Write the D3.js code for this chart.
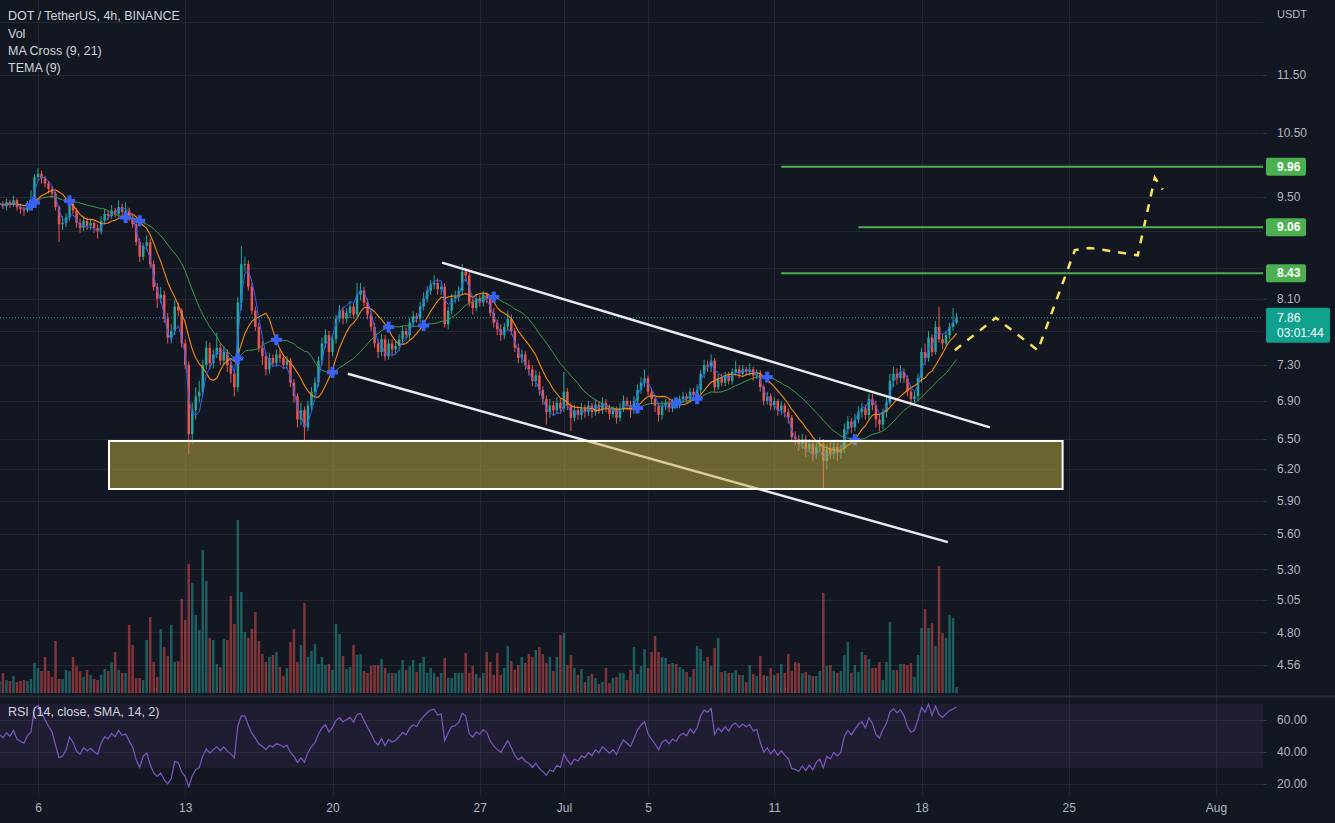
<!DOCTYPE html>
<html><head><meta charset="utf-8">
<script src="https://cdn.jsdelivr.net/npm/d3@7"></script>
<style>html,body{margin:0;padding:0;background:#131722;overflow:hidden}svg{display:block}</style>
</head><body>
<svg id="c" width="1335" height="823"></svg>
<script>
// ---------- DATA ----------
const firstBarTime = Date.UTC(2022, 5, 4, 4); // first 4h candle shown
const barMs = 4 * 3600 * 1000;
const firstOpen = 9.38;
const closes = [
9.40,9.36,9.42,9.38,9.45,9.35,9.32,9.30,9.38,9.42,
9.80,9.85,9.78,9.70,9.62,9.55,9.35,9.10,9.12,9.20,
9.40,9.30,9.12,9.05,9.15,9.08,9.12,9.05,9.00,9.15,
9.25,9.22,9.30,9.25,9.35,9.28,9.30,9.20,9.10,8.85,
8.65,8.80,8.85,8.55,8.25,8.10,8.15,7.85,7.62,7.70,
8.00,7.95,7.55,7.30,6.55,6.80,6.95,7.00,7.30,7.50,
7.32,7.42,7.50,7.35,7.45,7.30,7.20,7.05,8.05,8.55,
8.55,8.25,7.95,7.75,7.50,7.40,7.25,7.38,7.32,7.42,
7.38,7.30,7.35,7.10,6.95,6.70,6.80,6.62,6.85,7.00,
7.10,7.35,7.55,7.65,7.45,7.60,7.85,7.95,7.85,7.92,
8.00,7.90,8.15,8.20,8.05,7.90,7.75,7.55,7.45,7.60,
7.40,7.55,7.48,7.52,7.60,7.70,7.65,7.80,7.88,7.85,
8.00,8.10,8.20,8.28,8.30,8.22,8.25,7.78,7.95,8.10,
8.12,8.20,8.45,8.40,8.05,7.98,8.10,8.05,8.15,8.10,
7.92,7.80,7.72,7.65,7.75,7.85,7.70,7.50,7.38,7.42,
7.30,7.25,7.12,7.18,7.02,6.92,6.78,6.85,6.80,6.88,
6.82,7.00,6.85,6.72,6.80,6.75,6.82,6.78,6.85,6.78,
6.86,6.80,6.88,6.82,6.76,6.80,6.72,6.82,6.90,6.85,
6.80,6.90,7.02,7.10,7.15,7.00,6.92,6.85,6.75,6.85,
6.88,6.82,6.88,6.85,6.92,6.95,6.92,7.00,6.96,7.02,
7.20,7.30,7.28,7.35,7.05,7.15,7.10,7.18,7.12,7.22,
7.25,7.20,7.25,7.22,7.25,7.18,7.20,7.05,6.90,6.95,
6.85,6.90,6.80,6.85,6.78,6.72,6.52,6.50,6.45,6.50,
6.40,6.45,6.35,6.42,6.45,6.28,6.40,6.35,6.42,6.36,
6.40,6.60,6.68,6.62,6.70,6.78,6.82,6.75,6.92,6.85,
6.70,6.65,6.78,6.88,7.12,7.20,7.15,7.22,7.15,7.00,
6.92,6.95,7.15,7.45,7.38,7.62,7.45,7.75,7.60,7.55,
7.65,7.75,7.80,7.86];
const highs = [
9.46,9.44,9.47,9.45,9.52,9.48,9.40,9.36,9.44,9.60,
9.84,9.94,9.90,9.82,9.74,9.66,9.58,9.38,9.22,9.26,
9.46,9.44,9.34,9.18,9.22,9.20,9.18,9.16,9.10,9.22,
9.32,9.30,9.38,9.34,9.45,9.40,9.42,9.34,9.24,9.14,
8.90,8.84,8.95,8.90,8.60,8.30,8.25,8.20,7.92,7.78,
8.08,8.05,7.98,7.60,7.34,6.88,7.05,7.12,7.36,7.58,
7.56,7.48,7.68,7.55,7.52,7.48,7.35,7.25,8.12,8.80,
8.65,8.60,8.30,8.00,7.80,7.58,7.45,7.44,7.42,7.48,
7.48,7.42,7.40,7.38,7.14,6.98,6.88,6.84,6.90,7.05,
7.16,7.40,7.62,7.72,7.70,7.66,7.90,8.02,8.00,7.98,
8.06,8.04,8.30,8.30,8.25,8.10,7.95,7.80,7.60,7.66,
7.65,7.60,7.60,7.58,7.66,7.76,7.74,7.86,7.94,7.92,
8.06,8.18,8.26,8.34,8.40,8.36,8.30,8.30,8.00,8.16,
8.20,8.26,8.55,8.50,8.44,8.10,8.16,8.14,8.20,8.18,
8.14,7.98,7.84,7.78,7.80,7.95,7.90,7.74,7.55,7.48,
7.46,7.36,7.30,7.24,7.22,7.06,6.96,6.92,6.90,6.94,
6.92,7.22,7.04,6.88,6.86,6.84,6.88,6.86,6.90,6.88,
6.92,6.90,6.94,6.92,6.86,6.84,6.84,6.88,6.96,6.94,
6.90,6.95,7.08,7.16,7.25,7.18,7.04,6.96,6.88,6.90,
6.92,6.92,6.92,6.92,6.96,7.00,6.98,7.04,7.04,7.08,
7.24,7.36,7.35,7.42,7.38,7.20,7.20,7.22,7.22,7.26,
7.35,7.30,7.30,7.28,7.32,7.28,7.25,7.24,7.08,7.00,
6.98,6.94,6.92,6.90,6.88,6.82,6.75,6.58,6.54,6.55,
6.54,6.50,6.48,6.46,6.52,6.50,6.44,6.48,6.48,6.46,
6.44,6.66,6.74,6.72,6.76,6.84,6.88,6.86,6.98,6.98,
6.90,6.76,6.82,6.94,7.20,7.28,7.26,7.30,7.26,7.18,
7.04,7.00,7.20,7.50,7.55,7.70,7.66,7.82,8.00,7.66,
7.70,7.80,7.98,7.92];
const lows = [
9.33,9.32,9.30,9.34,9.35,9.30,9.25,9.22,9.27,9.35,
9.38,9.74,9.70,9.64,9.55,9.48,9.30,8.85,9.02,9.06,
9.15,9.25,9.05,8.98,9.00,9.02,9.02,8.98,8.90,8.96,
9.10,9.16,9.18,9.20,9.20,9.22,9.22,9.15,9.05,8.80,
8.58,8.60,8.74,8.50,8.20,7.98,8.04,7.80,7.55,7.55,
7.65,7.88,7.50,7.25,6.35,6.45,6.70,6.88,6.95,7.25,
7.25,7.26,7.38,7.30,7.30,7.22,7.10,6.95,7.00,7.95,
8.45,8.20,7.90,7.70,7.45,7.30,7.18,7.20,7.28,7.28,
7.32,7.25,7.25,7.05,6.88,6.62,6.64,6.48,6.58,6.80,
6.95,7.05,7.30,7.50,7.22,7.40,7.55,7.80,7.78,7.80,
7.86,7.85,7.86,8.08,8.00,7.84,7.70,7.50,7.38,7.40,
7.35,7.36,7.40,7.42,7.46,7.55,7.60,7.60,7.75,7.80,
7.80,7.95,8.05,8.15,8.22,8.15,8.15,7.74,7.72,7.90,
8.04,8.06,8.15,8.32,8.00,7.90,7.94,8.00,8.00,8.04,
7.88,7.74,7.65,7.58,7.60,7.70,7.65,7.45,7.32,7.32,
7.25,7.18,7.06,7.05,6.96,6.86,6.65,6.72,6.74,6.76,
6.76,6.78,6.80,6.58,6.68,6.70,6.70,6.72,6.74,6.72,
6.74,6.76,6.76,6.78,6.70,6.72,6.66,6.68,6.78,6.80,
6.72,6.76,6.86,6.98,7.05,6.96,6.86,6.78,6.68,6.70,
6.80,6.78,6.78,6.82,6.82,6.88,6.88,6.88,6.92,6.92,
6.98,7.15,7.22,7.22,7.00,7.02,7.06,7.06,7.08,7.08,
7.18,7.15,7.16,7.18,7.18,7.12,7.14,7.00,6.85,6.86,
6.80,6.80,6.74,6.75,6.72,6.66,6.48,6.44,6.38,6.40,
6.32,6.36,6.28,6.30,6.38,6.00,6.20,6.30,6.30,6.28,
6.30,6.36,6.55,6.56,6.58,6.66,6.72,6.70,6.70,6.80,
6.62,6.58,6.60,6.72,6.85,7.05,7.08,7.10,7.10,6.95,
6.86,6.88,6.90,7.10,7.30,7.34,7.40,7.42,7.56,7.48,
7.52,7.60,7.70,7.78];
// volume, thousands of DOT
const volumes = [
12,20,13,12,17,11,12,13,12,14,
30,25,22,36,22,16,52,14,14,23,
22,36,27,22,16,23,18,14,13,18,
24,22,31,41,23,20,20,68,48,15,
15,13,53,76,31,16,64,46,37,68,
31,32,94,73,129,110,78,63,143,112,
55,53,29,26,54,53,97,69,173,101,
61,55,64,81,52,39,31,36,38,41,
26,17,25,51,64,31,48,90,36,42,
49,29,36,28,29,23,69,59,37,24,
26,48,38,39,22,20,27,28,28,34,
25,20,20,20,23,33,23,27,33,21,
30,36,20,25,20,16,20,35,15,15,
20,20,20,40,20,27,19,15,20,41,
31,18,40,18,25,47,32,23,28,36,
30,39,36,43,46,39,30,36,22,36,
58,60,28,38,25,18,24,11,17,19,
15,9,11,25,10,15,16,20,20,13,
23,46,19,27,44,25,41,57,41,36,
35,29,30,29,26,24,21,16,24,47,
44,32,36,27,45,55,21,22,20,20,
23,18,18,11,28,19,17,37,18,17,
25,18,20,29,20,39,22,31,30,20,
21,18,17,17,22,100,27,28,22,20,
22,38,51,20,28,21,41,38,34,25,
25,31,13,31,71,23,23,29,29,28,
30,16,38,65,84,65,70,47,127,60,
55,78,75,6];

const priceTicks = [12.5, 11.5, 10.5, 10, 9.5, 9, 8.5, 8.1, 7.7, 7.3, 6.9, 6.5, 6.2, 5.9, 5.6, 5.3, 5.05, 4.8, 4.56];
const rsiTicks = [60, 40, 20];
const timeTicks = ["2022-06-06","2022-06-13","2022-06-20","2022-06-27","2022-07-01","2022-07-05","2022-07-11","2022-07-18","2022-07-25","2022-08-01"];
const timeTickLabels = ["6","13","20","27","Jul","5","11","18","25","Aug"];

// drawings (time, price)
const targetPrices = [9.96, 9.06, 8.43];
const targetStarts = ["2022-07-11T08:00Z","2022-07-15T00:00Z","2022-07-11T08:00Z"];
const channelUpper = [["2022-06-25T05:00Z", 8.57], ["2022-07-21T06:00Z", 6.62]];
const channelLower = [["2022-06-20T17:30Z", 7.20], ["2022-07-19T06:00Z", 5.53]];
const supportZone = {from: "2022-06-09T09:00Z", to: "2022-07-24T17:00Z", top: 6.48, bottom: 6.01};
const projTimes = ["2022-07-19T14:00Z","2022-07-21T12:45Z","2022-07-23T12:45Z","2022-07-25T07:00Z","2022-07-26T00:00Z","2022-07-28T06:45Z","2022-07-29T02:10Z","2022-07-29T11:15Z"];
const projPrices = [7.47, 7.86, 7.47, 8.74, 8.77, 8.67, 9.79, 9.61];
const lastPrice = 7.86, countdown = "03:01:44";

// ---------- SETUP ----------
const W = 1335, plotR = 1263, paneBottom = 696, rsiTop = 698, rsiBottom = 795;
const UP = "#26a69a", DN = "#ef5350";
const svg = d3.select("#c");
svg.append("rect").attr("width", W).attr("height", 823).attr("fill", "#131722");

const x = d3.scaleUtc().domain([new Date(Date.UTC(2022,5,6)), new Date(Date.UTC(2022,7,1))]).range([38, 1216]);
const y = d3.scaleLog().domain([6.5, 11.5]).range([439, 75]);
const yv = d3.scaleLinear().domain([0, d3.max(volumes)]).range([693, 520]);
const yr = d3.scaleLinear().domain([20, 60]).range([784, 720]);

const bars = closes.map((c, i) => {
  const o = i ? closes[i-1] : firstOpen;
  return {t: new Date(firstBarTime + i*barMs), o, c, h: Math.max(highs[i], o, c), l: Math.min(lows[i], o, c), v: volumes[i]};
});

// indicators
function sma(a, n){ return a.map((_, i) => d3.mean(a.slice(Math.max(0, i-n+1), i+1))); }
function ema(a, n){ const k = 2/(n+1), out = []; a.forEach((v, i) => out.push(i ? out[i-1] + k*(v - out[i-1]) : v)); return out; }
const ma9 = sma(closes, 9), ma21 = sma(closes, 21);
const e1 = ema(closes, 9), e2 = ema(e1, 9), e3 = ema(e2, 9);
const tema = e1.map((v, i) => 3*v - 3*e2[i] + e3[i]);
const rsi = (() => {
  // Wilder RSI; warm-up seeded neutrally (equal average gain and loss)
  const n = 14, chg = bars.map(b => b.c - b.o);
  let ag = d3.mean(chg.slice(0, n), c => Math.abs(c)) / 2, al = ag;
  return chg.map(c => {
    ag = (ag*(n-1) + Math.max(c, 0))/n; al = (al*(n-1) + Math.max(-c, 0))/n;
    return al === 0 ? 100 : 100 - 100/(1 + ag/al);
  });
})();
const crosses = [];
for (let i = 9; i < bars.length; i++) {
  const a = ma9[i-1] - ma21[i-1], b = ma9[i] - ma21[i];
  if ((a <= 0 && b > 0) || (a >= 0 && b < 0)) crosses.push({t: bars[i].t, p: ma21[i]});
}

// clips
const defs = svg.append("defs");
defs.append("clipPath").attr("id", "pane").append("rect").attr("x", 0).attr("y", 0).attr("width", plotR).attr("height", paneBottom);
defs.append("clipPath").attr("id", "rsip").append("rect").attr("x", 0).attr("y", rsiTop).attr("width", plotR).attr("height", rsiBottom - rsiTop);

// grid
const grid = svg.append("g").attr("stroke", "#232733").attr("stroke-width", 1).attr("shape-rendering", "crispEdges");
grid.selectAll(".hg").data(priceTicks.filter(p => y(p) < paneBottom - 2)).join("line")
  .attr("x1", 0).attr("x2", plotR).attr("y1", d => Math.round(y(d)) + 0.5).attr("y2", d => Math.round(y(d)) + 0.5);
grid.selectAll(".vg").data(timeTicks).join("line")
  .attr("x1", d => Math.round(x(new Date(d))) + 0.5).attr("x2", d => Math.round(x(new Date(d))) + 0.5)
  .attr("y1", 0).attr("y2", rsiBottom);

// RSI band and grid
svg.append("rect").attr("x", 0).attr("width", plotR).attr("y", yr(70)).attr("height", yr(30) - yr(70)).attr("fill", "rgba(126,87,194,0.1)");
grid.selectAll(".rg").data(rsiTicks).join("line")
  .attr("x1", 0).attr("x2", plotR).attr("y1", d => Math.round(yr(d)) + 0.5).attr("y2", d => Math.round(yr(d)) + 0.5);

// pane separator
svg.append("line").attr("x1", 0).attr("x2", W).attr("y1", paneBottom + 0.5).attr("y2", paneBottom + 0.5).attr("stroke", "#2a2e39").attr("stroke-width", 2);

const pane = svg.append("g").attr("clip-path", "url(#pane)");
const bw = 2.5;
// volume
pane.append("g").selectAll("rect").data(bars).join("rect")
  .attr("x", d => x(d.t) - bw/2).attr("width", bw)
  .attr("y", d => yv(d.v)).attr("height", d => yv(0) - yv(d.v))
  .attr("fill", d => d.c >= d.o ? "rgba(38,166,154,0.5)" : "rgba(239,83,80,0.5)");
// candles
const cg = pane.append("g");
cg.selectAll("line").data(bars).join("line")
  .attr("x1", d => x(d.t)).attr("x2", d => x(d.t)).attr("y1", d => y(d.h)).attr("y2", d => y(d.l))
  .attr("stroke", d => d.c >= d.o ? UP : DN).attr("stroke-width", 1);
cg.selectAll("rect").data(bars).join("rect")
  .attr("x", d => x(d.t) - bw/2).attr("width", bw)
  .attr("y", d => y(Math.max(d.o, d.c))).attr("height", d => Math.max(1, Math.abs(y(d.o) - y(d.c))))
  .attr("fill", d => d.c >= d.o ? UP : DN);

// MAs
const ln = d3.line().x(d => x(d[0])).y(d => y(d[1]));
pane.append("path").attr("d", ln(bars.map((b, i) => [b.t, ma21[i]]))).attr("fill", "none").attr("stroke", "#3d9a45").attr("stroke-width", 1);
pane.append("path").attr("d", ln(bars.map((b, i) => [b.t, ma9[i]]))).attr("fill", "none").attr("stroke", "#f58a10").attr("stroke-width", 1.1);
pane.append("path").attr("d", ln(bars.map((b, i) => [b.t, tema[i]]))).attr("fill", "none").attr("stroke", "#2962ff").attr("stroke-width", 1);
// cross markers
const cm = pane.append("g").attr("fill", "#3862f5");
crosses.forEach(c => {
  const cx = x(c.t), cy = y(c.p);
  cm.append("rect").attr("x", cx - 5.5).attr("y", cy - 2).attr("width", 11).attr("height", 4);
  cm.append("rect").attr("x", cx - 2).attr("y", cy - 5.5).attr("width", 4).attr("height", 11);
});

// current price dotted line
pane.append("line").attr("x1", 0).attr("x2", plotR).attr("y1", y(lastPrice)).attr("y2", y(lastPrice))
  .attr("stroke", UP).attr("stroke-width", 1).attr("stroke-dasharray", "1,2");

// drawings
const dl = d3.line().x(d => x(new Date(d[0]))).y(d => y(d[1]));
pane.append("path").attr("d", dl(channelUpper)).attr("stroke", "#e8eaf0").attr("stroke-width", 2.5).attr("fill", "none");
pane.append("path").attr("d", dl(channelLower)).attr("stroke", "#e8eaf0").attr("stroke-width", 2.5).attr("fill", "none");
pane.append("rect")
  .attr("x", x(new Date(supportZone.from))).attr("width", x(new Date(supportZone.to)) - x(new Date(supportZone.from)))
  .attr("y", y(supportZone.top)).attr("height", y(supportZone.bottom) - y(supportZone.top))
  .attr("fill", "rgba(196,176,62,0.5)").attr("stroke", "#ffffff").attr("stroke-width", 2);
pane.append("path").attr("d", dl(projTimes.map((t, i) => [t, projPrices[i]])))
  .attr("fill", "none").attr("stroke", "#f7e35a").attr("stroke-width", 2.5).attr("stroke-dasharray", "8,8");
pane.selectAll(".tl").data(targetPrices).join("line")
  .attr("x1", (d, i) => x(new Date(targetStarts[i]))).attr("x2", plotR)
  .attr("y1", d => y(d)).attr("y2", d => y(d)).attr("stroke", "#4caf50").attr("stroke-width", 2);

// RSI line
svg.append("g").attr("clip-path", "url(#rsip)").append("path")
  .attr("d", d3.line().x((d, i) => x(bars[i].t)).y(d => yr(d))(rsi))
  .attr("fill", "none").attr("stroke", "#7e57c2").attr("stroke-width", 1.2);

// axes
const font = "'Liberation Sans', Arial, sans-serif";
function styleAxis(g){
  g.select(".domain").remove();
  g.selectAll(".tick line").attr("stroke", "#363a45");
  g.selectAll(".tick text").attr("fill", "#b2b5be").style("font-family", font).style("font-size", "12px");
}
// price-scale labels hidden by the coloured price boxes (as on the reference) are not printed
const boxYs = targetPrices.map(p => [y(p) - 9, y(p) + 9]).concat([[y(lastPrice) - 10, y(lastPrice) + 25]]);
const visibleTicks = priceTicks.filter(p => y(p) > 24 && !boxYs.some(([a, b]) => y(p) > a - 7 && y(p) < b + 7));
const pa = svg.append("g").attr("transform", `translate(${plotR},0)`)
  .call(d3.axisRight(y).tickValues(visibleTicks).tickFormat(d3.format(".2f")).tickSize(4).tickPadding(10));
styleAxis(pa);
svg.append("text").attr("x", 1277).attr("y", 14).attr("dy", "0.32em").text("USDT")
  .attr("fill", "#b2b5be").style("font-family", font).style("font-size", "11px");
const ra = svg.append("g").attr("transform", `translate(${plotR},0)`)
  .call(d3.axisRight(yr).tickValues(rsiTicks).tickFormat(d3.format(".2f")).tickSize(4).tickPadding(10));
styleAxis(ra);
const ta = svg.append("g").attr("transform", `translate(0,${rsiBottom + 8})`)
  .call(d3.axisBottom(x).tickValues(timeTicks.map(d => new Date(d))).tickFormat((d, i) => timeTickLabels[i]).tickSize(0).tickPadding(0));
styleAxis(ta);
ta.selectAll(".tick text").attr("dy", "0.71em");

// price labels
targetPrices.forEach(p => {
  const g = svg.append("g").attr("transform", `translate(1266,${y(p)})`);
  g.append("rect").attr("x", 0).attr("y", -9).attr("width", 40).attr("height", 18).attr("rx", 2).attr("fill", "#4caf50");
  g.append("text").attr("x", 11).attr("dy", "0.35em").text(d3.format(".2f")(p)).attr("fill", "#ffffff")
    .style("font-family", font).style("font-size", "12px").style("font-weight", "bold");
});
{
  const g = svg.append("g").attr("transform", `translate(1266,${y(lastPrice)})`);
  g.append("rect").attr("x", 0).attr("y", -10).attr("width", 64).attr("height", 35).attr("rx", 2).attr("fill", "#10a08e");
  g.append("text").attr("x", 11).attr("y", 0).attr("dy", "0.35em").text(d3.format(".2f")(lastPrice)).attr("fill", "#ffffff")
    .style("font-family", font).style("font-size", "12px");
  g.append("text").attr("x", 11).attr("y", 15).attr("dy", "0.35em").text(countdown).attr("fill", "#ffffff")
    .style("font-family", font).style("font-size", "12px");
}

// legends
const legend = ["DOT / TetherUS, 4h, BINANCE", "Vol", "MA Cross (9, 21)", "TEMA (9)"];
svg.append("g").selectAll("text").data(legend).join("text")
  .attr("x", 8).attr("y", (d, i) => 16 + i*17.3).attr("dy", "0.35em").text(d => d)
  .attr("fill", "#d1d4dc").style("font-family", font).style("font-size", "12.5px");
svg.append("text").attr("x", 8).attr("y", 712).attr("dy", "0.35em").text("RSI (14, close, SMA, 14, 2)")
  .attr("fill", "#d1d4dc").style("font-family", font).style("font-size", "12.5px");
</script>
</body></html>
